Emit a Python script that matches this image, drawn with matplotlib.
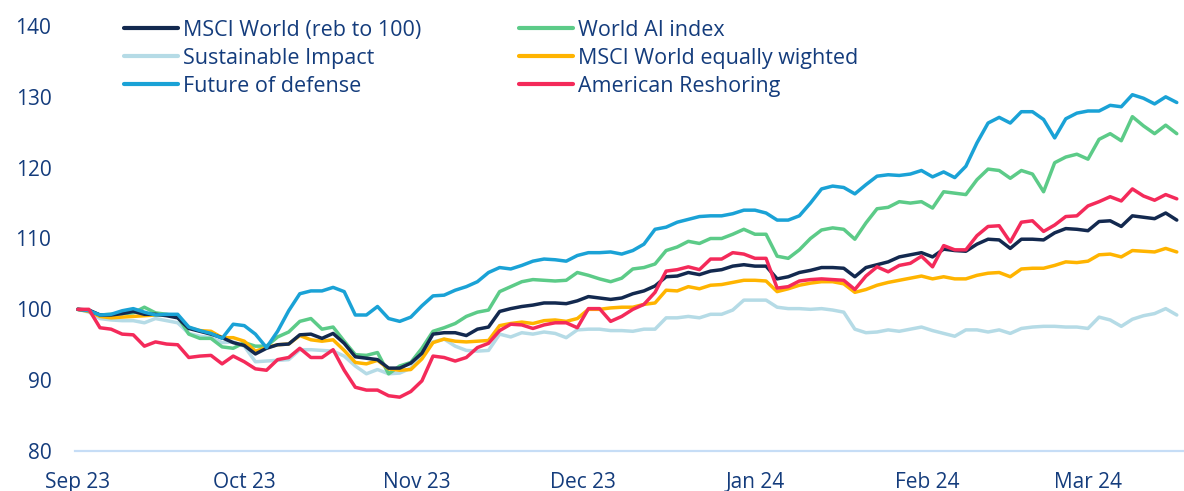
import matplotlib
matplotlib.use("Agg")
import matplotlib.pyplot as plt
import pandas as pd
from matplotlib.lines import Line2D

plt.rcParams['font.family'] = ['Open Sans', 'DejaVu Sans']

# dates: every 2 calendar days from 1 Sep 2023
dates = pd.date_range("2023-09-01", periods=100, freq="2D")

msci_world = [100, 99.9, 99.2, 99.2, 99.4, 99.7, 99.3, 99.3, 99.1, 98.8,
              97.3, 96.9, 96.5, 96.0, 95.3, 94.9, 93.7, 94.5, 95.0, 95.1,
              96.4, 96.5, 95.9, 96.6, 95.2, 93.3, 93.1, 92.9, 91.7, 91.7,
              92.4, 93.8, 96.5, 96.7, 96.7, 96.3, 97.2, 97.5, 99.7, 100.1,
              100.4, 100.6, 100.9, 100.9, 100.8, 101.2, 101.8, 101.6, 101.4, 101.6,
              102.2, 102.6, 103.3, 104.6, 104.7, 105.2, 104.9, 105.4, 105.6, 106.1,
              106.3, 106.1, 106.1, 104.3, 104.6, 105.2, 105.5, 105.9, 105.9, 105.8,
              104.6, 105.9, 106.3, 106.7, 107.4, 107.7, 108.0, 107.4, 108.5, 108.3,
              108.2, 109.2, 109.9, 109.8, 108.6, 109.9, 109.9, 109.8, 110.8, 111.4,
              111.3, 111.1, 112.4, 112.5, 111.7, 113.2, 113.0, 112.8, 113.6, 112.6]

sustainable_impact = [100, 99.6, 98.7, 98.5, 98.4, 98.4, 98.1, 98.7, 98.4, 98.1,
                      96.6, 96.2, 96.0, 95.3, 95.4, 94.8, 92.6, 92.7, 92.8, 92.9,
                      94.3, 94.3, 94.2, 94.1, 93.4, 92.0, 90.9, 91.5, 90.9, 91.0,
                      91.7, 93.4, 95.4, 95.8, 94.8, 94.2, 94.1, 94.2, 96.5, 96.1,
                      96.7, 96.5, 96.8, 96.6, 96.0, 97.1, 97.2, 97.2, 97.0, 97.0,
                      96.9, 97.2, 97.2, 98.8, 98.8, 99.0, 98.8, 99.3, 99.3, 99.9,
                      101.3, 101.3, 101.3, 100.3, 100.1, 100.1, 100.0, 100.1, 99.9, 99.6,
                      97.2, 96.7, 96.8, 97.1, 96.9, 97.2, 97.5, 97.0, 96.6, 96.2,
                      97.1, 97.1, 96.8, 97.1, 96.6, 97.3, 97.5, 97.6, 97.6, 97.5,
                      97.5, 97.3, 98.9, 98.5, 97.6, 98.6, 99.1, 99.4, 100.1, 99.2]

future_defense = [100, 99.8, 99.2, 99.3, 99.8, 100.1, 99.6, 99.2, 99.3, 99.3,
                  97.5, 97.0, 96.6, 95.9, 97.9, 97.7, 96.5, 94.6, 96.9, 99.8,
                  102.2, 102.6, 102.6, 103.1, 102.5, 99.2, 99.2, 100.4, 98.7, 98.3,
                  98.9, 100.5, 101.9, 102.0, 102.7, 103.2, 103.9, 105.2, 105.9, 105.7,
                  106.2, 106.8, 107.1, 107.0, 106.8, 107.6, 108.0, 108.0, 108.1, 107.8,
                  108.3, 109.2, 111.3, 111.6, 112.3, 112.7, 113.1, 113.2, 113.2, 113.5,
                  114.0, 114.0, 113.6, 112.6, 112.6, 113.2, 115.0, 117.0, 117.4, 117.2,
                  116.3, 117.6, 118.8, 119.0, 118.9, 119.1, 119.6, 118.7, 119.4, 118.6,
                  120.2, 123.5, 126.3, 127.1, 126.3, 127.9, 127.9, 126.8, 124.2, 126.9,
                  127.7, 128.0, 128.0, 128.8, 128.6, 130.3, 129.8, 129.0, 130.0, 129.2]

world_ai = [100, 99.8, 99.2, 99.3, 99.4, 99.5, 100.3, 99.5, 99.3, 99.0,
            96.5, 95.9, 95.9, 94.7, 94.5, 95.3, 94.8, 94.8, 96.1, 96.8,
            98.3, 98.7, 97.2, 97.5, 95.5, 93.6, 93.5, 93.9, 90.9, 92.0,
            92.5, 94.5, 96.9, 97.4, 98.0, 99.0, 99.6, 99.9, 102.5, 103.2,
            103.9, 104.2, 104.1, 104.0, 104.1, 105.2, 104.8, 104.3, 103.9, 104.4,
            105.7, 105.9, 106.4, 108.3, 108.8, 109.6, 109.3, 110.0, 110.0, 110.6,
            111.3, 110.6, 110.6, 107.5, 107.2, 108.4, 110.0, 111.2, 111.5, 111.3,
            109.9, 112.2, 114.2, 114.4, 115.2, 115.0, 115.2, 114.3, 116.6, 116.4,
            116.2, 118.3, 119.8, 119.6, 118.5, 119.6, 119.1, 116.6, 120.7, 121.5,
            121.9, 121.2, 124.0, 124.8, 123.8, 127.2, 125.9, 124.8, 126.0, 124.8]

msci_equal = [100, 99.7, 99.0, 98.8, 98.9, 99.0, 99.1, 99.2, 99.2, 98.9,
              97.4, 97.0, 96.9, 96.0, 96.0, 95.5, 94.1, 94.6, 95.0, 95.1,
              96.3, 95.7, 95.5, 95.7, 94.2, 92.5, 92.3, 92.8, 91.6, 91.4,
              91.5, 93.0, 95.3, 95.8, 95.5, 95.4, 95.5, 95.6, 97.7, 98.0,
              98.2, 98.0, 98.4, 98.5, 98.3, 98.7, 100.0, 100.0, 100.2, 100.3,
              100.3, 100.7, 100.9, 102.7, 102.6, 103.2, 102.9, 103.4, 103.5, 103.8,
              104.1, 104.1, 104.0, 102.5, 102.9, 103.4, 103.7, 103.9, 103.9, 103.6,
              102.4, 102.8, 103.4, 103.8, 104.1, 104.4, 104.7, 104.3, 104.6, 104.3,
              104.3, 104.8, 105.1, 105.2, 104.6, 105.7, 105.8, 105.8, 106.2, 106.7,
              106.6, 106.8, 107.7, 107.8, 107.4, 108.3, 108.2, 108.1, 108.6, 108.1]

american_reshoring = [100, 100.0, 97.4, 97.2, 96.5, 96.4, 94.8, 95.4, 95.1, 95.0,
                      93.2, 93.4, 93.5, 92.3, 93.4, 92.6, 91.6, 91.4, 92.9, 93.2,
                      94.5, 93.2, 93.2, 94.3, 91.4, 89.0, 88.6, 88.6, 87.8, 87.6,
                      88.4, 89.9, 93.4, 93.2, 92.7, 93.2, 94.6, 95.2, 97.0, 97.9,
                      97.8, 97.3, 97.8, 98.1, 98.1, 97.4, 100.1, 100.1, 98.3, 99.0,
                      100.0, 100.7, 102.4, 105.4, 105.6, 106.0, 105.6, 107.1, 107.1, 108.0,
                      107.8, 107.2, 107.2, 103.0, 103.2, 104.0, 104.2, 104.3, 104.2, 104.1,
                      102.8, 104.7, 106.0, 105.3, 106.2, 106.5, 107.5, 106.0, 109.0, 108.4,
                      108.4, 110.4, 111.7, 111.8, 109.5, 112.3, 112.5, 111.0, 111.9, 113.1,
                      113.2, 114.6, 115.2, 115.9, 115.3, 117.0, 116.0, 115.4, 116.2, 115.6]

y_ticks = [80, 90, 100, 110, 120, 130, 140]
x_tick_dates = pd.to_datetime(["2023-09-01", "2023-10-01", "2023-11-01", "2023-12-01",
                               "2024-01-01", "2024-02-01", "2024-03-01"])
x_tick_labels = ["Sep 23", "Oct 23", "Nov 23", "Dec 23", "Jan 24", "Feb 24", "Mar 24"]

C_NAVY = "#13294F"
C_LIGHT = "#B5DBE6"
C_BLUE = "#1AA2D6"
C_GREEN = "#5CCB88"
C_YELLOW = "#FFB400"
C_RED = "#F42A5A"
TXT = "#143C7C"

W, H = 1184, 491
fig = plt.figure(figsize=(W / 100, H / 100), dpi=100)
ax = fig.add_axes([75 / W, 1 - 451 / H, (W - 75) / W, (451 - 26) / H])

lw = 2.5
series = [
    (sustainable_impact, C_LIGHT, "Sustainable Impact"),
    (world_ai, C_GREEN, "World AI index"),
    (msci_equal, C_YELLOW, "MSCI World equally wighted"),
    (msci_world, C_NAVY, "MSCI World (reb to 100)"),
    (future_defense, C_BLUE, "Future of defense"),
    (american_reshoring, C_RED, "American Reshoring"),
]
for vals, col, lab in series:
    ax.plot(dates, vals, color=col, lw=lw, solid_joinstyle="round", solid_capstyle="round")

ax.set_ylim(80, 140)
ax.set_xlim(pd.Timestamp("2023-09-01") - pd.Timedelta(hours=12),
            pd.Timestamp("2023-09-01") + pd.Timedelta(days=199.3))
ax.set_yticks(y_ticks)
ax.set_xticks(x_tick_dates)
ax.set_xticklabels(x_tick_labels)
for s in ax.spines.values():
    s.set_visible(False)
ax.axhline(80, color="#C6DDF6", lw=1.6, clip_on=False, zorder=0)
ax.tick_params(axis="both", length=0, labelsize=15, labelcolor=TXT)
ax.tick_params(axis="y", pad=17)
ax.tick_params(axis="x", pad=15)

def handles(items):
    return [Line2D([0], [0], color=c, lw=3, solid_capstyle="round") for c, _ in items], [l for _, l in items]

col1 = [(C_NAVY, "MSCI World (reb to 100)"), (C_LIGHT, "Sustainable Impact"), (C_BLUE, "Future of defense")]
col2 = [(C_GREEN, "World AI index"), (C_YELLOW, "MSCI World equally wighted"), (C_RED, "American Reshoring")]

for items, xpos in [(col1, 124 / W), (col2, 519 / W)]:
    h, l = handles(items)
    fig.legend(h, l, loc="upper left", bbox_to_anchor=(xpos, 1 - 20 / H), frameon=False,
               fontsize=15.5, handlelength=2.5, handletextpad=0.23, labelspacing=0.32,
               borderpad=0, borderaxespad=0, labelcolor=TXT)

fig.savefig("out.png", dpi=100)
